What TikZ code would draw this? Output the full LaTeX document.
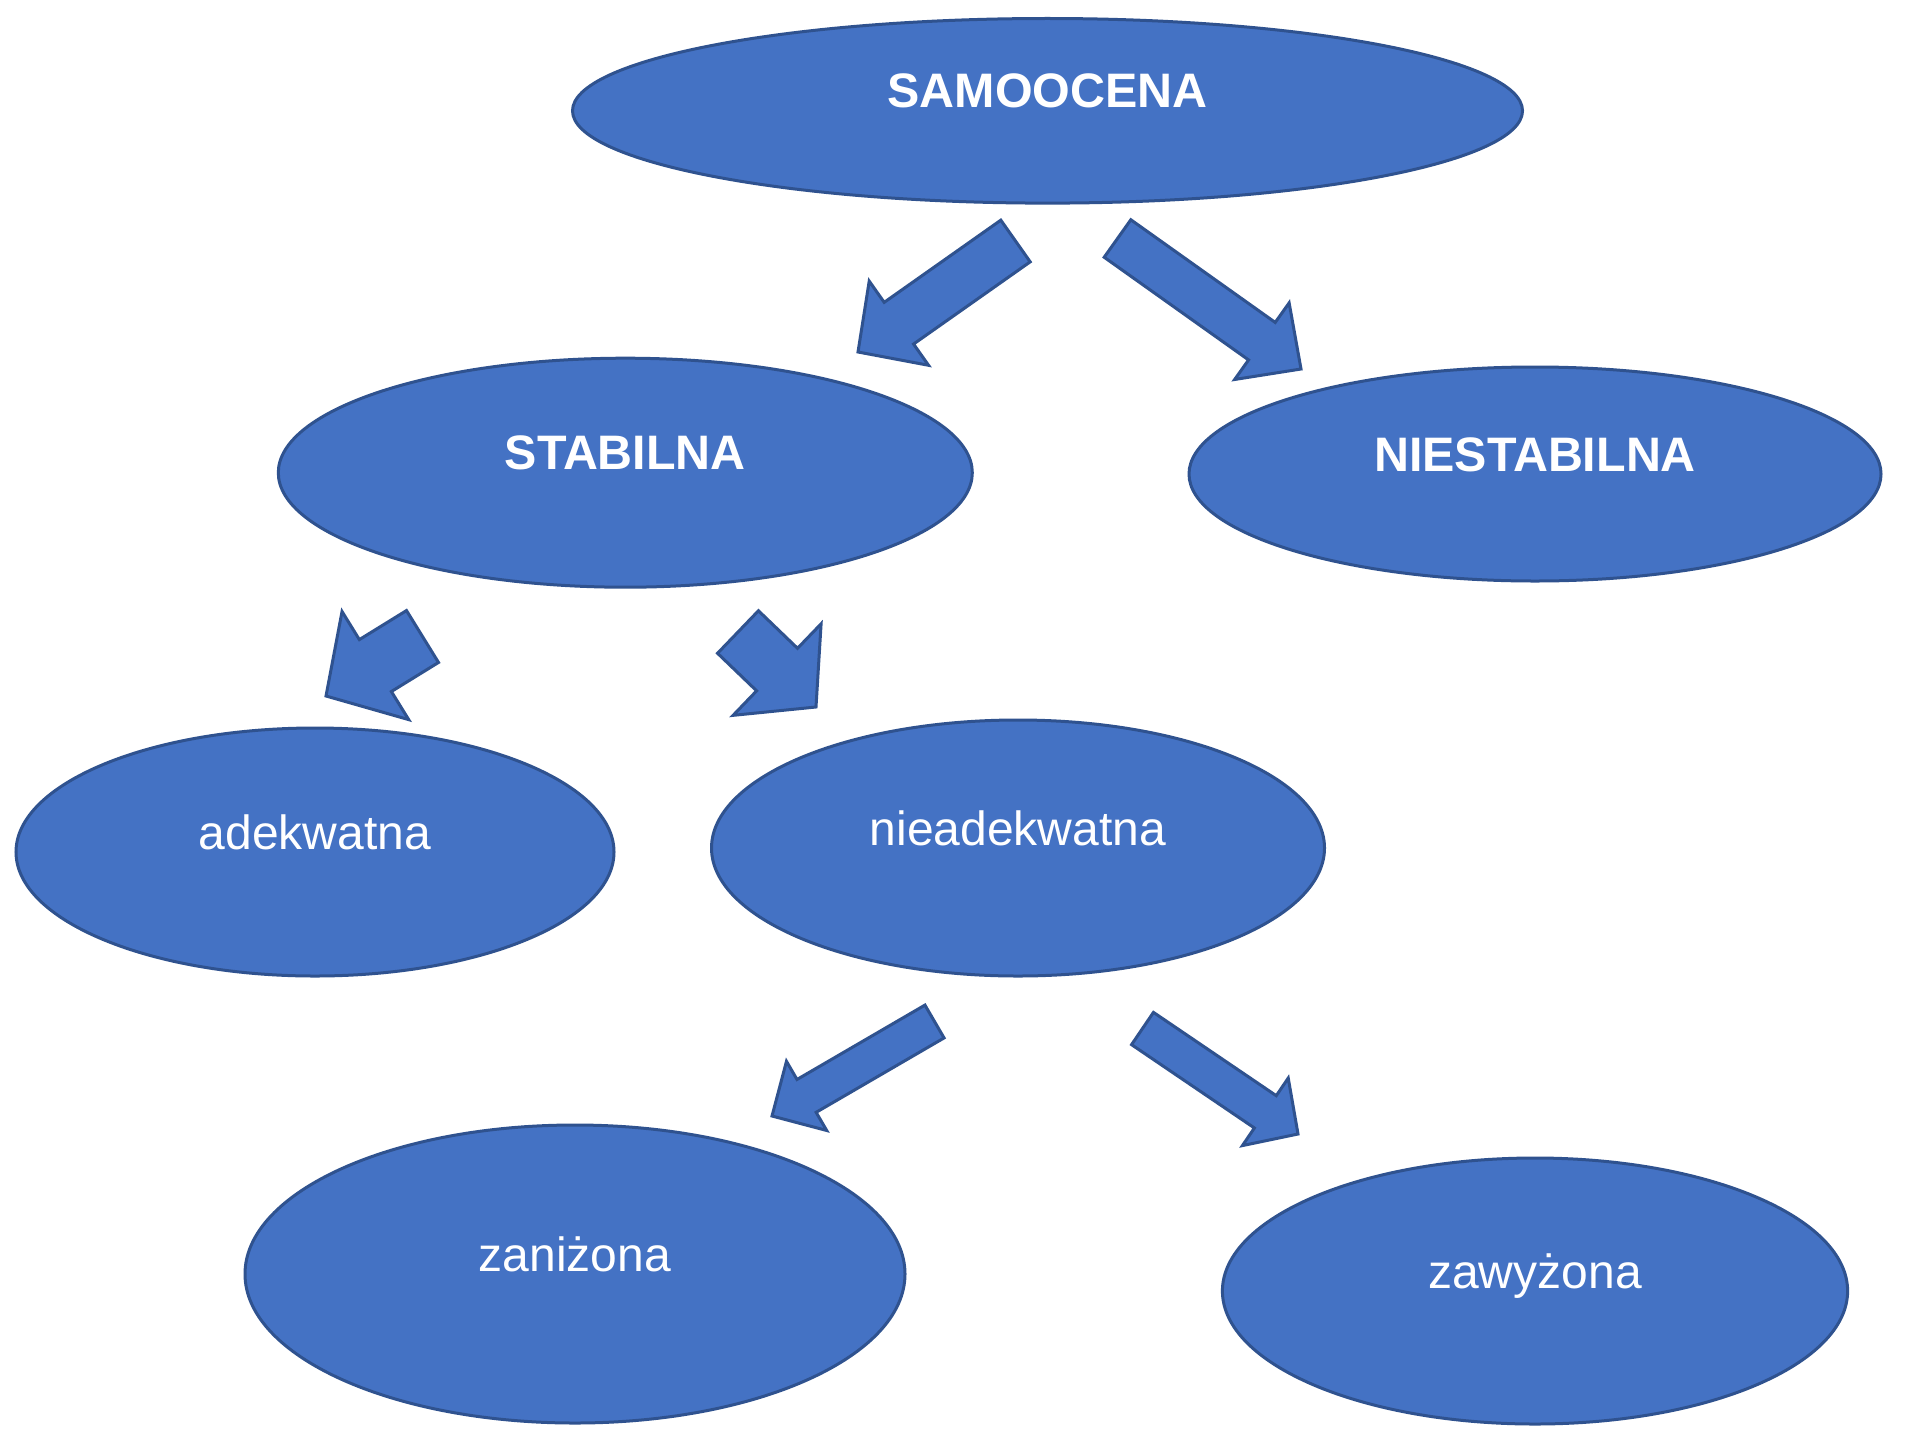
\documentclass[tikz,border=0pt]{standalone}
\usepackage{fontspec}
\setmainfont{Liberation Sans}
\usetikzlibrary{calc,shapes.geometric}
\definecolor{officeblue}{HTML}{4472C4}
\definecolor{officeedge}{HTML}{2F528F}
\tikzset{
  ell/.style={ellipse, draw=officeedge, fill=officeblue, line width=1.5pt, inner sep=0pt},
  lbl/.style={text=white, anchor=base, font=\fontsize{24}{29}\selectfont},
  lblbold/.style={lbl, font=\fontsize{24.2}{29}\selectfont\bfseries},
  barrow/.style={draw=officeedge, fill=officeblue, line width=1.5pt, line join=miter}
}
% #1 name, #2 tail, #3 tip, #4 half shaft width, #5 half head width, #6 head length
\newcommand\blockarrow[6]{%
  \coordinate (#1-t) at #2;
  \coordinate (#1-p) at #3;
  \coordinate (#1-h) at ($(#1-p)!#6!(#1-t)$);
  \filldraw[barrow] ($(#1-t)!#4!90:(#1-p)$) -- ($(#1-h)!#4!90:(#1-p)$)
    -- ($(#1-h)!#5!90:(#1-p)$) -- (#1-p) -- ($(#1-h)!#5!-90:(#1-p)$)
    -- ($(#1-h)!#4!-90:(#1-p)$) -- ($(#1-t)!#4!-90:(#1-p)$) -- cycle;%
}
\begin{document}
\begin{tikzpicture}[x=0.5pt,y=-0.5pt]
\fill[white] (0,0) rectangle (1930,1450);
\useasboundingbox (0,0) rectangle (1930,1450);

\node[ell, minimum width=475pt, minimum height=92.3pt] (samo) at (1047.5,110.8) {};
\node[ell, minimum width=347pt, minimum height=114.5pt] (stab) at (625.3,472.7) {};
\node[ell, minimum width=346pt, minimum height=107pt] (niest) at (1535,474) {};
\node[ell, minimum width=299pt, minimum height=124pt] (adek) at (315,852) {};
\node[ell, minimum width=306.5pt, minimum height=128pt] (niead) at (1018,848) {};
\node[ell, minimum width=330pt, minimum height=149pt] (zani) at (575,1274) {};
\node[ell, minimum width=312.6pt, minimum height=133pt] (zawy) at (1535,1291) {};

\node[lblbold] (samo-l) at ($(samo.center)+(0,-3)$) {SAMOOCENA};
\node[lblbold] (stab-l) at ($(stab.center)+(0,-3)$) {STABILNA};
\node[lblbold] (niest-l) at ($(niest.center)+(0,-3)$) {NIESTABILNA};
\node[lbl] (adek-l) at ($(adek.center)+(0,-3)$) {adekwatna};
\node[lbl] (niead-l) at ($(niead.center)+(0,-3)$) {nieadekwatna};
\node[lbl] (zani-l) at ($(zani.center)+(0,-3)$) {zaniżona};
\node[lbl] (zawy-l) at ($(zawy.center)+(0,-3)$) {zawyżona};

\blockarrow{a1}{(1015.5,241)}{(858,352)}{12.75pt}{25.75pt}{25pt}
\blockarrow{a2}{(1117.5,238.5)}{(1301,369)}{11.5pt}{23.5pt}{24pt}
\blockarrow{a3}{(422.5,636.5)}{(326,696)}{15.25pt}{31.75pt}{29pt}
\blockarrow{a4}{(738,632)}{(816,707)}{14.75pt}{31.75pt}{27pt}
\blockarrow{a5}{(934.5,1021.5)}{(772,1116)}{9.5pt}{20pt}{20pt}
\blockarrow{a6}{(1142.5,1028.5)}{(1298,1134)}{9.75pt}{20.4pt}{19.75pt}
\end{tikzpicture}
\end{document}
